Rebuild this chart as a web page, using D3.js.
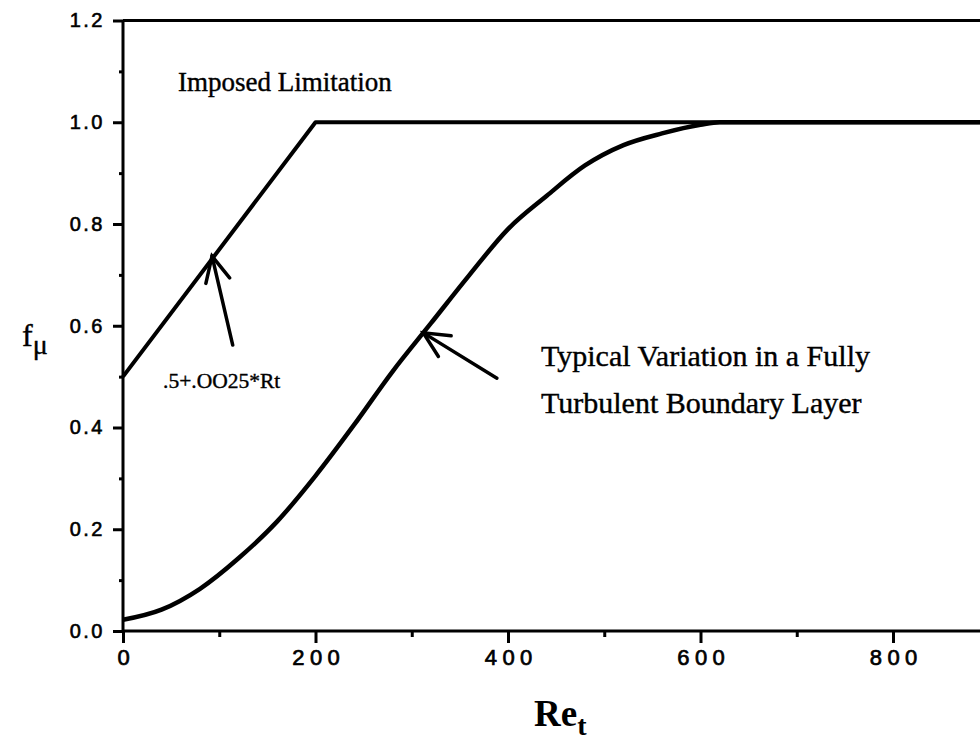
<!DOCTYPE html>
<html>
<head>
<meta charset="utf-8">
<script src="https://cdn.jsdelivr.net/npm/d3@7"></script>
<style>
html,body{margin:0;padding:0;background:#fff;overflow:hidden;}
</style>
</head>
<body>
<svg id="chart" width="980" height="749"></svg>
<script>
// ---- data ----
const limitRt   = [0, 200, 1000];
const limitFmu  = [0.5, 1.0, 1.0];
const typicalRt  = [0, 40, 80, 120, 160, 200, 240, 280, 320, 360, 400, 440, 480, 520, 560, 600, 620, 1000];
const typicalFmu = [0.022, 0.042, 0.083, 0.143, 0.215, 0.305, 0.405, 0.51, 0.605, 0.70, 0.79, 0.855, 0.915, 0.955, 0.978, 0.995, 1.0, 1.0];
const xTicks = [0, 200, 400, 600, 800];
const xMinor = [100, 300, 500, 700, 900];
const yTicks = [0.0, 0.2, 0.4, 0.6, 0.8, 1.0, 1.2];
const yMinor = [0.1, 0.3, 0.5, 0.7, 0.9, 1.1];
// annotation arrows: [tailRt, tailF, tipRt, tipF]
const arrows = [
  [114, 0.562, 92.5, 0.737],
  [388.5, 0.497, 312, 0.586]
];

const svg = d3.select("#chart");
const x = d3.scaleLinear().domain([0, 1000]).range([123, 1085.5]);
const y = d3.scaleLinear().domain([0, 1.2]).range([631, 20.5]);

// frame (top border)
svg.append("line").attr("x1", x(0)).attr("x2", x(1000)).attr("y1", y(1.2)).attr("y2", y(1.2))
  .attr("stroke", "#000").attr("stroke-width", 3);
svg.append("line").attr("x1", x(1000)).attr("x2", x(1000)).attr("y1", y(1.2)).attr("y2", y(0))
  .attr("stroke", "#000").attr("stroke-width", 3);

// x axis
const xAxis = d3.axisBottom(x).tickValues(xTicks).tickSize(12).tickPadding(6).tickFormat(d3.format("d"));
const gx = svg.append("g").attr("transform", `translate(0,${y(0)})`).call(xAxis);
gx.select(".domain").attr("stroke-width", 3).attr("d", `M${x(0)},0H${x(1000)}`);
gx.selectAll(".tick line").attr("stroke-width", 3);
gx.selectAll(".tick text").attr("font-family", "'Liberation Sans', Arial, sans-serif").attr("font-size", 22)
  .attr("letter-spacing", "5.5px").attr("dx", "2.75px").attr("fill", "#000")
  .attr("stroke", "#000").attr("stroke-width", 0.7);
const gxm = svg.append("g").attr("transform", `translate(0,${y(0)})`)
  .call(d3.axisBottom(x).tickValues(xMinor).tickSize(6).tickFormat(""));
gxm.select(".domain").remove();
gxm.selectAll(".tick line").attr("stroke-width", 3);

// y axis
const yAxis = d3.axisLeft(y).tickValues(yTicks).tickSize(10).tickPadding(8).tickFormat(d3.format(".1f"));
const gy = svg.append("g").attr("transform", `translate(${x(0)},0)`).call(yAxis);
gy.select(".domain").attr("stroke-width", 3).attr("d", `M0,${y(0)}V${y(1.2)}`);
gy.selectAll(".tick line").attr("stroke-width", 3);
gy.selectAll(".tick text").attr("font-family", "'Liberation Sans', Arial, sans-serif").attr("font-size", 20)
  .attr("letter-spacing", "2.5px").attr("fill", "#000")
  .attr("stroke", "#000").attr("stroke-width", 0.6);
const gym = svg.append("g").attr("transform", `translate(${x(0)},0)`)
  .call(d3.axisLeft(y).tickValues(yMinor).tickSize(4).tickFormat(""));
gym.select(".domain").remove();
gym.selectAll(".tick line").attr("stroke-width", 3);

// lines
const line = d3.line().x(d => x(d[0])).y(d => y(d[1]));
svg.append("path").datum(limitRt.map((r, i) => [r, limitFmu[i]]))
  .attr("d", line).attr("fill", "none").attr("stroke", "#000").attr("stroke-width", 4)
  .attr("stroke-linejoin", "round");
svg.append("path").datum(typicalRt.map((r, i) => [r, typicalFmu[i]]))
  .attr("d", line.curve(d3.curveMonotoneX)).attr("fill", "none").attr("stroke", "#000").attr("stroke-width", 4.5)
  .attr("stroke-linejoin", "round");

// arrows
arrows.forEach(a => {
  const tx = x(a[0]), ty = y(a[1]), hx = x(a[2]), hy = y(a[3]);
  const ang = Math.atan2(ty - hy, tx - hx);
  const L = 28, sp = 0.45;
  svg.append("line").attr("x1", tx).attr("y1", ty).attr("x2", hx).attr("y2", hy)
    .attr("stroke", "#000").attr("stroke-width", 3.5).attr("stroke-linecap", "round");
  const p1 = [hx + L * Math.cos(ang + sp), hy + L * Math.sin(ang + sp)];
  const p2 = [hx + L * Math.cos(ang - sp), hy + L * Math.sin(ang - sp)];
  svg.append("path").attr("d", `M${p1[0]},${p1[1]}L${hx},${hy}L${p2[0]},${p2[1]}`)
    .attr("fill", "none").attr("stroke", "#000").attr("stroke-width", 3.5)
    .attr("stroke-linecap", "round").attr("stroke-linejoin", "miter");
});

// annotation text
const serif = "'Liberation Serif', 'Times New Roman', serif";
function label(xp, yp, size, txt) {
  return svg.append("text").attr("x", xp).attr("y", yp).attr("font-family", serif).attr("font-size", size)
    .attr("fill", "#000").attr("stroke", "#000").attr("stroke-width", 0.4).text(txt);
}
label(178, 91, 27, "Imposed Limitation");
label(163, 388, 21.5, ".5+.OO25*Rt");
label(541, 366, 30, "Typical Variation in a Fully");
label(541, 413, 30, "Turbulent Boundary Layer");

// axis titles
const yl = svg.append("text").attr("x", 22).attr("y", 346).attr("font-family", serif).attr("font-size", 32)
  .attr("stroke", "#000").attr("stroke-width", 0.4);
yl.append("tspan").text("f");
yl.append("tspan").attr("font-size", 28).attr("dy", 8).text("μ");
const xl = svg.append("text").attr("x", 534).attr("y", 726).attr("font-family", serif)
  .attr("font-size", 37).attr("font-weight", "bold");
xl.append("tspan").text("Re");
xl.append("tspan").attr("font-size", 28).attr("dy", 9).text("t");
</script>
</body>
</html>
